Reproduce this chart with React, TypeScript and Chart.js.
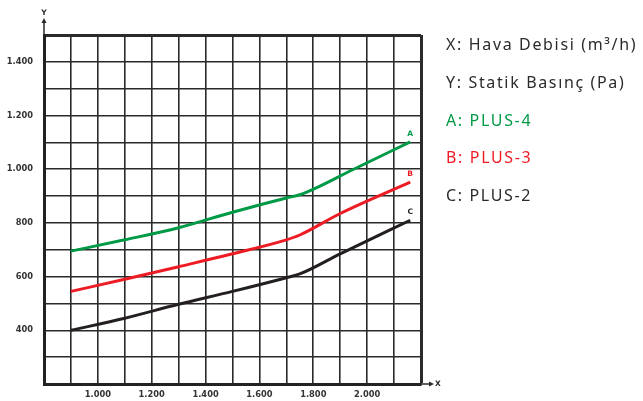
import React, { useEffect, useRef } from "react";
import { Chart, registerables } from "chart.js";

Chart.register(...registerables);

const xA = [900, 1100, 1300, 1500, 1700, 1750, 1950, 2160];
const yA = [695, 737, 782, 840, 893, 905, 1000, 1102];
const xB = [900, 1100, 1300, 1500, 1700, 1750, 1900, 2160];
const yB = [545, 590, 637, 685, 737, 755, 835, 952];
const xC = [900, 1100, 1300, 1500, 1700, 1750, 1900, 2160];
const yC = [400, 445, 497, 545, 596, 610, 685, 810];
const seriesLetters = ["A", "B", "C"];
const seriesColors = ["#009a47", "#ed1c24", "#231f20"];
const legendLines = [
  { text: "X: Hava Debisi (m³/h)", color: "#2b2b2b" },
  { text: "Y: Statik Basınç (Pa)", color: "#2b2b2b" },
  { text: "A: PLUS-4", color: "#009a47" },
  { text: "B: PLUS-3", color: "#ed1c24" },
  { text: "C: PLUS-2", color: "#2b2b2b" },
];
const xMin = 800, xMax = 2200, yMin = 200, yMax = 1500;

const tickFont = { family: "'DejaVu Sans', sans-serif", size: 8.3, weight: "bold" as const };

const fmt = (v: number) => {
  if (v >= 1000) {
    const th = Math.floor(v / 1000);
    const r = String(v % 1000).padStart(3, "0");
    return th + "." + r;
  }
  return String(v);
};

const toPts = (xs: number[], ys: number[]) => xs.map((x, i) => ({ x, y: ys[i] }));

export default function App() {
  const ref = useRef<HTMLCanvasElement>(null);
  useEffect(() => {
    if (!ref.current) return;
    const overlay = {
      id: "overlay",
      afterDraw(chart: any) {
        const ctx = chart.ctx;
        const a = chart.chartArea;
        ctx.save();
        ctx.strokeStyle = "#2a2a2a";
        ctx.fillStyle = "#2a2a2a";
        ctx.lineWidth = 1.5;
        // y arrow
        ctx.beginPath();
        ctx.moveTo(a.left, a.top);
        ctx.lineTo(a.left, a.top - 14);
        ctx.stroke();
        ctx.beginPath();
        ctx.moveTo(a.left, a.top - 17);
        ctx.lineTo(a.left - 2.5, a.top - 12);
        ctx.lineTo(a.left + 2.5, a.top - 12);
        ctx.closePath();
        ctx.fill();
        // x arrow
        ctx.beginPath();
        ctx.moveTo(a.right, a.bottom);
        ctx.lineTo(a.right + 10, a.bottom);
        ctx.stroke();
        ctx.beginPath();
        ctx.moveTo(a.right + 13, a.bottom);
        ctx.lineTo(a.right + 8, a.bottom - 2.5);
        ctx.lineTo(a.right + 8, a.bottom + 2.5);
        ctx.closePath();
        ctx.fill();
        ctx.font = "bold 7.5px 'DejaVu Sans', sans-serif";
        ctx.textAlign = "center";
        ctx.textBaseline = "middle";
        ctx.fillText("Y", a.left, a.top - 22);
        ctx.textAlign = "left";
        ctx.fillText("X", a.right + 14, a.bottom);
        // series letters
        chart.data.datasets.forEach((ds: any, i: number) => {
          const meta = chart.getDatasetMeta(i);
          const last = meta.data[meta.data.length - 1];
          ctx.fillStyle = seriesColors[i];
          ctx.textAlign = "center";
          ctx.textBaseline = "bottom";
          ctx.fillText(seriesLetters[i], last.x, last.y - 4);
        });
        ctx.restore();
      },
    };
    const mk = (xs: number[], ys: number[], i: number) => ({
      data: toPts(xs, ys),
      borderColor: seriesColors[i],
      borderWidth: 3,
      pointRadius: 0,
      cubicInterpolationMode: "monotone" as const,
      fill: false,
    });
    const chart = new Chart(ref.current, {
      type: "line",
      data: { datasets: [mk(xA, yA, 0), mk(xB, yB, 1), mk(xC, yC, 2)] },
      options: {
        animation: false,
        responsive: false,
        devicePixelRatio: 1,
        layout: { padding: { left: 0, top: 35, right: 222, bottom: 0 } },
        plugins: { legend: { display: false }, tooltip: { enabled: false } },
        scales: {
          x: {
            type: "linear",
            min: xMin,
            max: xMax,
            afterFit: (s: any) => { s.height = 17; },
            afterBuildTicks: (s: any) => {
              const t = [];
              for (let v = xMin; v <= xMax; v += 100) t.push({ value: v });
              s.ticks = t;
            },
            border: { display: true, color: "#222", width: 3 },
            grid: {
              color: "#2a2a2a",
              lineWidth: (c: any) => (c.tick && c.tick.value === xMax ? 3 : 1.6),
              drawTicks: false,
            },
            ticks: {
              autoSkip: false,
              maxRotation: 0,
              padding: 6,
              color: "#333",
              font: tickFont,
              callback: (v: any) => {
                const n = Number(v);
                return n >= 1000 && n <= 2000 && n % 200 === 0 ? fmt(n) : "";
              },
            },
          },
          y: {
            type: "linear",
            min: yMin,
            max: yMax,
            afterFit: (s: any) => { s.width = 44; },
            afterBuildTicks: (s: any) => {
              const t = [];
              for (let v = yMin; v <= yMax; v += 100) t.push({ value: v });
              s.ticks = t;
            },
            border: { display: true, color: "#222", width: 3 },
            grid: {
              color: "#2a2a2a",
              lineWidth: (c: any) => (c.tick && c.tick.value === yMax ? 3 : 1.6),
              drawTicks: false,
            },
            ticks: {
              autoSkip: false,
              padding: 11,
              color: "#333",
              font: tickFont,
              callback: (v: any) => {
                const n = Number(v);
                return n >= 400 && n <= 1400 && n % 200 === 0 ? fmt(n) : "";
              },
            },
          },
        },
      },
      plugins: [overlay],
    } as any);
    return () => chart.destroy();
  }, []);
  return (
    <div style={{ position: "absolute", left: 0, top: 0, width: 643, height: 401, background: "#fff" }}>
      <canvas ref={ref} width={643} height={401} style={{ position: "absolute", left: 0, top: 0 }} />
      {legendLines.map((l, i) => (
        <div
          key={i}
          style={{
            position: "absolute",
            left: 446,
            top: 44 + i * 37.8 - 11,
            height: 22,
            lineHeight: "22px",
            fontFamily: "'Noto Sans', sans-serif",
            fontSize: 16,
            letterSpacing: "1.65px",
            color: l.color,
            whiteSpace: "nowrap",
          }}
        >
          {l.text}
        </div>
      ))}
    </div>
  );
}
